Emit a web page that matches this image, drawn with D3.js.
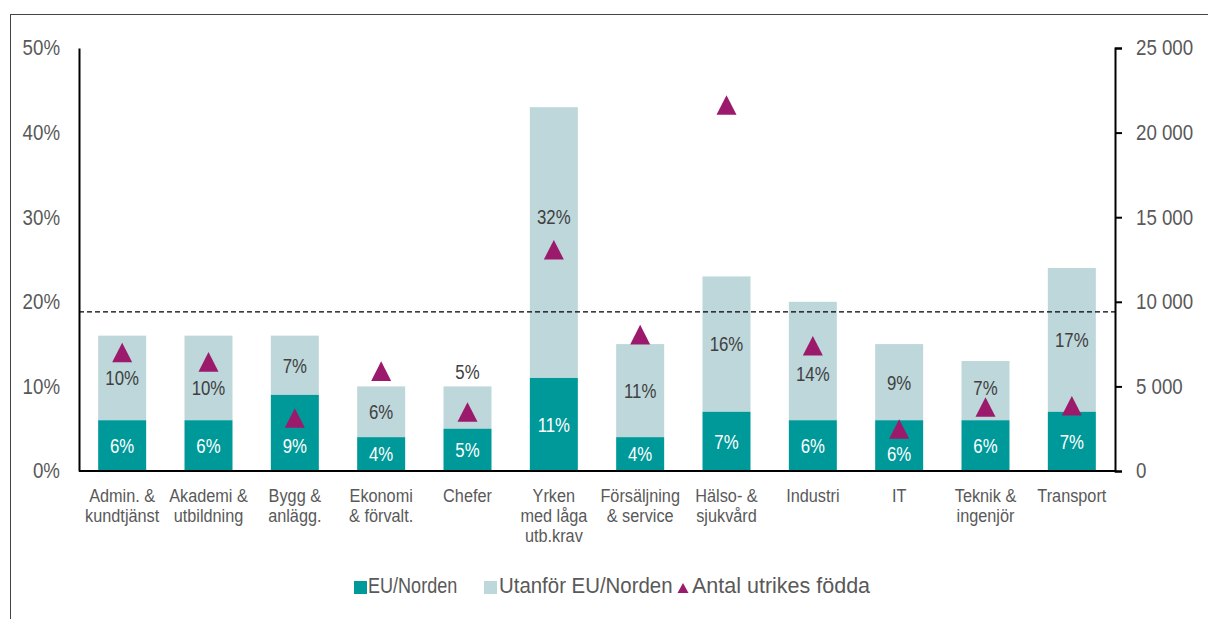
<!DOCTYPE html>
<html>
<head>
<meta charset="utf-8">
<script src="https://cdn.jsdelivr.net/npm/d3@7"></script>
<style>
  body { margin: 0; background: #fff; }
  svg text { font-family: "Liberation Sans", Arial, sans-serif; }
</style>
</head>
<body>
<script>
// Categories and values
var categories = [
  ["Admin. &", "kundtjänst"], ["Akademi &", "utbildning"], ["Bygg &", "anlägg."],
  ["Ekonomi", "& förvalt."], ["Chefer"], ["Yrken", "med låga", "utb.krav"],
  ["Försäljning", "& service"], ["Hälso- &", "sjukvård"], ["Industri"], ["IT"],
  ["Teknik &", "ingenjör"], ["Transport"]
];
var euNorden = [0.06, 0.06, 0.09, 0.04, 0.05, 0.11, 0.04, 0.07, 0.06, 0.06, 0.06, 0.07];
var utanfor  = [0.10, 0.10, 0.07, 0.06, 0.05, 0.32, 0.11, 0.16, 0.14, 0.09, 0.07, 0.17];
var antalUtrikes = [7000, 6450, 3130, 5900, 3490, 13080, 8060, 21630, 7400, 2480, 3780, 3860];
var averageShare = 0.188;
var leftTicks = [0, 0.1, 0.2, 0.3, 0.4, 0.5];
var rightTicks = [0, 5000, 10000, 15000, 20000, 25000];
var seriesNames = ["EU/Norden", "Utanför EU/Norden", "Antal utrikes födda"];

// hand-placed label nudges (pixels), as in the original
var euNudge = [0, 0, 13, 0, 0, 0, 0, 0, 0, 8, 0, 0];
var utNudge = [0, 10, 0, 0, -36, -26, 0, 0, 13, 0, -3, 0];

var W = 1209, H = 619;
var plot = { left: 79, right: 1115, top: 48, bottom: 471 };

var svg = d3.select("body").append("svg")
  .attr("width", W).attr("height", H);

// squeeze text horizontally around its own anchor (narrow typeface look)
function narrow(k) {
  return function(sel) {
    sel.each(function() {
      var t = d3.select(this);
      var x0 = +t.attr("x") || 0;
      var tr = t.attr("transform") || "";
      t.attr("x", x0 / k).attr("transform", tr + " scale(" + k + ",1)");
    });
  };
}

// outer frame (top and left edge only visible)
svg.append("line").attr("x1", 10).attr("x2", 1208).attr("y1", 14.5).attr("y2", 14.5)
  .attr("stroke", "#444").attr("stroke-width", 1);
svg.append("line").attr("x1", 10.5).attr("x2", 10.5).attr("y1", 14).attr("y2", H)
  .attr("stroke", "#444").attr("stroke-width", 1);

var x = d3.scaleBand()
  .domain(d3.range(categories.length))
  .range([plot.left, plot.right])
  .paddingInner(0.444)
  .paddingOuter(0.222);

var y = d3.scaleLinear().domain([0, 0.5]).range([plot.bottom, plot.top]);
var y2 = d3.scaleLinear().domain([0, 25000]).range([plot.bottom, plot.top]);

var colEU = "#009999", colUt = "#bdd7db", colTri = "#9c1a6b";
var pct = d3.format(".0%");
var sv = d3.formatLocale({ decimal: ",", thousands: "\u00a0", grouping: [3], currency: ["", " kr"] });
var numFmt = sv.format(",");

var rows = categories.map(function(c, i) {
  return { i: i, eu: euNorden[i], ut: utanfor[i], n: antalUtrikes[i] };
});

// bars
svg.append("g").selectAll("rect").data(rows).join("rect")
  .attr("x", function(d) { return x(d.i); })
  .attr("width", x.bandwidth())
  .attr("y", function(d) { return y(d.eu + d.ut); })
  .attr("height", function(d) { return y(d.eu) - y(d.eu + d.ut); })
  .attr("fill", colUt);

svg.append("g").selectAll("rect").data(rows).join("rect")
  .attr("x", function(d) { return x(d.i); })
  .attr("width", x.bandwidth())
  .attr("y", function(d) { return y(d.eu); })
  .attr("height", function(d) { return y(0) - y(d.eu); })
  .attr("fill", colEU);

// average dashed line
svg.append("line")
  .attr("x1", plot.left).attr("x2", plot.right)
  .attr("y1", y(averageShare)).attr("y2", y(averageShare))
  .attr("stroke", "#000").attr("stroke-width", 1.2)
  .attr("stroke-dasharray", "5,3");

// bar labels
svg.append("g").selectAll("text").data(rows).join("text")
  .attr("x", function(d) { return x(d.i) + x.bandwidth() / 2; })
  .attr("y", function(d) { return (y(0) + y(d.eu)) / 2 + euNudge[d.i]; })
  .attr("dy", "0.36em")
  .attr("text-anchor", "middle")
  .attr("fill", "#fff")
  .style("font-size", "20.5px")
  .text(function(d) { return pct(d.eu); })
  .call(narrow(0.82));

svg.append("g").selectAll("text").data(rows).join("text")
  .attr("x", function(d) { return x(d.i) + x.bandwidth() / 2; })
  .attr("y", function(d) { return (y(d.eu) + y(d.eu + d.ut)) / 2 + utNudge[d.i]; })
  .attr("dy", "0.36em")
  .attr("text-anchor", "middle")
  .attr("fill", "#404040")
  .style("font-size", "20.5px")
  .text(function(d) { return pct(d.ut); })
  .call(narrow(0.82));

// triangles on the right axis
function tri(cx, cy, hw, hh) {
  return "M" + cx + "," + (cy - hh) + "L" + (cx + hw) + "," + (cy + hh) + "L" + (cx - hw) + "," + (cy + hh) + "Z";
}
svg.append("g").selectAll("path").data(rows).join("path")
  .attr("d", function(d) { return tri(x(d.i) + x.bandwidth() / 2, y2(d.n), 10, 9.8); })
  .attr("fill", colTri);

// axes
var leftAxis = svg.append("g")
  .attr("transform", "translate(" + plot.left + ",0)")
  .call(d3.axisLeft(y).tickValues(leftTicks).tickFormat(pct).tickSize(0).tickPadding(19));
leftAxis.select(".domain").attr("stroke", "#000").attr("stroke-width", 2);

var rightAxis = svg.append("g")
  .attr("transform", "translate(" + plot.right + ",0)")
  .call(d3.axisRight(y2).tickValues(rightTicks).tickFormat(numFmt).tickSize(7).tickSizeOuter(7).tickPadding(14));
rightAxis.select(".domain").attr("stroke", "#000").attr("stroke-width", 2);
rightAxis.selectAll(".tick line").attr("stroke", "#000").attr("stroke-width", 2);

[leftAxis, rightAxis].forEach(function(a) {
  a.selectAll(".tick text").attr("fill", "#595959").style("font-size", "21.5px").call(narrow(0.87));
});

// bottom axis line and category labels
svg.append("line")
  .attr("x1", plot.left).attr("x2", plot.right)
  .attr("y1", y(0)).attr("y2", y(0))
  .attr("stroke", "#000").attr("stroke-width", 2);

var cat = svg.append("g").selectAll("text").data(rows).join("text")
  .attr("text-anchor", "middle")
  .attr("fill", "#595959")
  .style("font-size", "18.5px")
  .attr("transform", function(d) { return "translate(" + (x(d.i) + x.bandwidth() / 2) + ",502) scale(0.88,1)"; });
cat.selectAll("tspan").data(function(d) { return categories[d.i]; }).join("tspan")
  .attr("x", 0)
  .attr("y", function(d, j) { return j * 20; })
  .text(function(d) { return d; });

// legend
var legend = svg.append("g").attr("transform", "translate(0,593)");
legend.append("rect").attr("x", 354).attr("y", -12).attr("width", 13).attr("height", 13).attr("fill", colEU);
legend.append("rect").attr("x", 484).attr("y", -12).attr("width", 13).attr("height", 13).attr("fill", colUt);
legend.append("path").attr("d", tri(683, -5, 5.5, 5)).attr("fill", colTri);
var legendX = [368, 499, 692], legendK = [0.84, 0.95, 1.0];
seriesNames.forEach(function(name, i) {
  legend.append("text").attr("x", legendX[i]).attr("y", 0).text(name)
    .attr("fill", "#595959").style("font-size", "21.5px")
    .call(narrow(legendK[i]));
});
</script>
</body>
</html>
